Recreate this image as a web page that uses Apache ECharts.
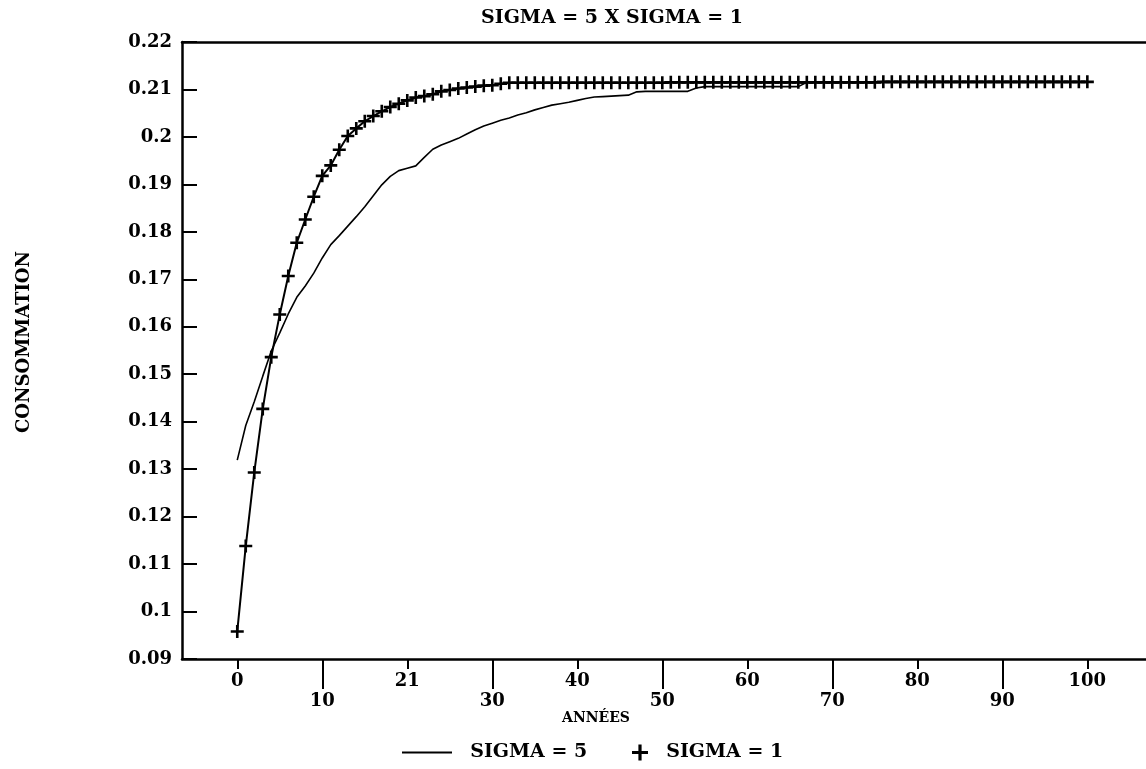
<!DOCTYPE html>
<html><head><meta charset="utf-8">
<script src="https://cdn.jsdelivr.net/npm/echarts@6/dist/echarts.min.js"></script>
<style>html,body{margin:0;padding:0;background:#fff}#c{width:1146px;height:769px}</style>
</head><body><div id="c"></div>
<script>
// ---- data ----
const chartTitle = 'SIGMA = 5 X SIGMA = 1';
const xName = 'ANNÉES';
const yName = 'CONSOMMATION';
const seriesNames = ['SIGMA = 5', 'SIGMA = 1'];
const xTickValues = [0, 10, 20, 30, 40, 50, 60, 70, 80, 90, 100];
const xTickLabels = ['0', '10', '21', '30', '40', '50', '60', '70', '80', '90', '100'];
// SIGMA = 5 (plain line), one value per year 0..100
const sigma5 = [
  0.1319, 0.1392, 0.1442, 0.1496, 0.1549, 0.1587, 0.1627, 0.1662, 0.1686, 0.1713,
  0.1745, 0.1773, 0.1792, 0.1812, 0.1832, 0.1853, 0.1876, 0.1899, 0.1917, 0.1929,
  0.1934, 0.1939, 0.1957, 0.1974, 0.1983, 0.1990, 0.1997, 0.2006, 0.2015, 0.2023,
  0.2029, 0.2035, 0.2040, 0.2046, 0.2051, 0.2057, 0.2062, 0.2067, 0.2070, 0.2073,
  0.2077, 0.2081, 0.2084, 0.2085, 0.2086, 0.2087, 0.2088, 0.2095, 0.2096, 0.2096,
  0.2096, 0.2096, 0.2096, 0.2096, 0.2103, 0.2106, 0.2106, 0.2106, 0.2106, 0.2106,
  0.2106, 0.2106, 0.2106, 0.2106, 0.2106, 0.2106, 0.2106, 0.2115, 0.2115, 0.2115,
  0.2115, 0.2115, 0.2115, 0.2115, 0.2115, 0.2115, 0.2115, 0.2115, 0.2115, 0.2115,
  0.2115, 0.2115, 0.2115, 0.2115, 0.2115, 0.2115, 0.2115, 0.2115, 0.2115, 0.2115,
  0.2115, 0.2115, 0.2115, 0.2115, 0.2115, 0.2115, 0.2115, 0.2115, 0.2115, 0.2115,
  0.2115
];
// SIGMA = 1 (line with + markers), one value per year 0..100
const sigma1 = [
  0.0958, 0.1138, 0.1293, 0.1427, 0.1536, 0.1626, 0.1707, 0.1777, 0.1826, 0.1874,
  0.1918, 0.1940, 0.1973, 0.2002, 0.2018, 0.2033, 0.2044, 0.2054, 0.2063, 0.2070,
  0.2077, 0.2083, 0.2086, 0.2090, 0.2096, 0.2099, 0.2102, 0.2104, 0.2106, 0.2108,
  0.2109, 0.2112, 0.2114, 0.2114, 0.2114, 0.2114, 0.2114, 0.2114, 0.2114, 0.2114,
  0.2114, 0.2114, 0.2114, 0.2114, 0.2114, 0.2114, 0.2114, 0.2114, 0.2114, 0.2114,
  0.2114, 0.2115, 0.2115, 0.2115, 0.2115, 0.2115, 0.2115, 0.2115, 0.2115, 0.2115,
  0.2115, 0.2115, 0.2115, 0.2115, 0.2115, 0.2115, 0.2115, 0.2115, 0.2115, 0.2115,
  0.2115, 0.2115, 0.2115, 0.2115, 0.2115, 0.2115, 0.2116, 0.2116, 0.2116, 0.2116,
  0.2116, 0.2116, 0.2116, 0.2116, 0.2116, 0.2116, 0.2116, 0.2116, 0.2116, 0.2116,
  0.2116, 0.2116, 0.2116, 0.2116, 0.2116, 0.2116, 0.2116, 0.2116, 0.2116, 0.2116,
  0.2116
];

// ---- chart ----
const FONT = 'DejaVu Serif';
const plusPath = 'path://M4,0H6V4H10V6H6V10H4V6H0V4H4Z';
const xEven = xTickValues.filter((v, i) => i % 2 === 0);
const xOdd = xTickValues.filter((v, i) => i % 2 === 1);
const labelFor = v => { const i = xTickValues.indexOf(v); return i >= 0 ? xTickLabels[i] : ''; };
const txt = { color: '#000', fontFamily: FONT, fontWeight: 'bold', fontSize: 18 };
const legTxt = { color: '#000', fontFamily: FONT, fontWeight: 'bold', fontSize: 19 };
const X_MIN = -6.5, X_MAX = 106.9;

const chart = echarts.init(document.getElementById('c'), null, { renderer: 'canvas' });
chart.setOption({
  animation: false,
  backgroundColor: '#fff',
  grid: { left: 182, right: 0, top: 42, bottom: 110, containLabel: false },
  graphic: [
    { type: 'text', x: 612, y: 18, style: { text: chartTitle, textAlign: 'center', textVerticalAlign: 'middle', fill: '#000', font: 'bold 19px "DejaVu Serif"' } },
    { type: 'text', x: 596, y: 718, style: { text: xName, textAlign: 'center', textVerticalAlign: 'middle', fill: '#000', font: 'bold 14px "DejaVu Serif"' } },
    { type: 'text', x: 24, y: 342, rotation: Math.PI / 2, style: { text: yName, textAlign: 'center', textVerticalAlign: 'middle', fill: '#000', font: 'bold 18px "DejaVu Serif"' } }
  ],
  legend: [
    { data: [{ name: seriesNames[0], icon: 'rect' }], left: 397, top: 738, itemWidth: 50, itemHeight: 2,
      formatter: n => '  ' + n, textStyle: legTxt, selectedMode: false },
    { data: [{ name: seriesNames[1], icon: plusPath }], left: 627, top: 738, itemWidth: 16, itemHeight: 16,
      formatter: n => '  ' + n, textStyle: legTxt, selectedMode: false }
  ],
  xAxis: [
    { type: 'value', min: X_MIN, max: X_MAX, position: 'bottom',
      axisLine: { show: true, onZero: false, lineStyle: { color: '#000', width: 2.5 } },
      splitLine: { show: false },
      axisTick: { show: true, customValues: xEven, length: 10, lineStyle: { color: '#000', width: 2 } },
      axisLabel: Object.assign({ customValues: xEven, margin: 13, formatter: labelFor }, txt) },
    { type: 'value', min: X_MIN, max: X_MAX, position: 'bottom',
      axisLine: { show: false, onZero: false },
      splitLine: { show: false },
      axisTick: { show: true, customValues: xOdd, length: 30, lineStyle: { color: '#000', width: 2 } },
      axisLabel: Object.assign({ customValues: xOdd, margin: 33, formatter: labelFor }, txt) },
    { type: 'value', min: X_MIN, max: X_MAX, position: 'top',
      axisLine: { show: true, onZero: false, lineStyle: { color: '#000', width: 2.5 } },
      axisTick: { show: false }, axisLabel: { show: false }, splitLine: { show: false } }
  ],
  yAxis: {
    type: 'value', min: 0.09, max: 0.22, interval: 0.01, position: 'left',
    axisLine: { show: true, onZero: false, lineStyle: { color: '#000', width: 2.5 } },
    axisTick: { show: true, inside: true, length: 15, lineStyle: { color: '#000', width: 2 } },
    splitLine: { show: false },
    axisLabel: Object.assign({ margin: 10 }, txt)
  },
  series: [
    { name: seriesNames[0], type: 'line', xAxisIndex: 0, data: sigma5.map((v, i) => [i, v]),
      symbol: 'none', color: '#000', lineStyle: { color: '#000', width: 1.6 }, z: 2 },
    { name: seriesNames[1], type: 'line', xAxisIndex: 0, data: sigma1.map((v, i) => [i, v]),
      symbol: plusPath, symbolSize: 13, showSymbol: true, color: '#000',
      itemStyle: { color: '#000' }, lineStyle: { color: '#000', width: 2 }, z: 3 }
  ]
});
</script></body></html>
